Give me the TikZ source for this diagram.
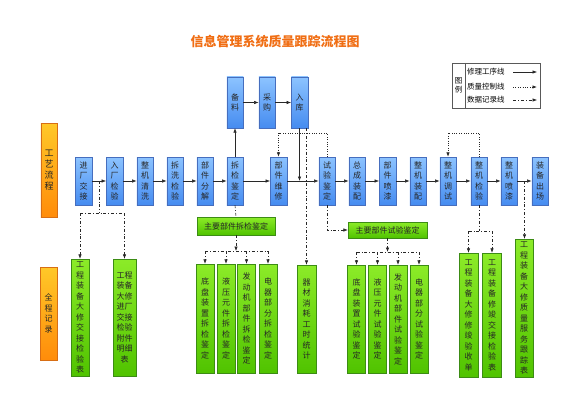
\documentclass[tikz,border=0pt]{standalone}
\usepackage{fontspec}
\setmainfont{Noto Sans CJK SC}
\usepackage{tikz}
\usetikzlibrary{calc}
\usetikzlibrary{arrows.meta}

\definecolor{procA}{RGB}{140,195,255}
\definecolor{procB}{RGB}{70,140,240}
\definecolor{procL}{RGB}{70,110,190}
\definecolor{recA}{RGB}{140,235,40}
\definecolor{recB}{RGB}{80,195,0}
\definecolor{recL}{RGB}{60,140,20}
\definecolor{sideA}{RGB}{255,200,40}
\definecolor{sideB}{RGB}{255,140,10}
\definecolor{sideL}{RGB}{215,110,20}
\definecolor{titleC}{RGB}{240,110,20}
\definecolor{lineC}{RGB}{40,40,40}

\tikzset{
  proc/.style={draw=procL, top color=procA, bottom color=procB, minimum width=16.5pt,
    minimum height=48pt, inner sep=0pt, align=center, text=black!85,
    font=\fontsize{8}{10.5}\selectfont},
  rec/.style={draw=recL, top color=recA, bottom color=recB, minimum width=18pt,
    inner sep=0pt, align=center, text=black!85, font=\fontsize{8}{10.5}\selectfont},
  side/.style={draw=sideL, top color=sideA, bottom color=sideB, minimum width=16.5pt,
    inner sep=0pt, align=center, text=black!85},
  flow/.style={-{Latex[length=4.5pt,width=3.5pt]}, lineC, line width=0.6pt},
  qual/.style={lineC, line width=0.7pt, dash pattern=on 0.8pt off 1.6pt},
  data/.style={lineC, line width=0.6pt, dash pattern=on 3pt off 2pt on 0.8pt off 2pt},
  tip/.style={-{Latex[length=4.5pt,width=3.5pt]}}
}

\begin{document}
\begin{tikzpicture}[x=1pt,y=-1pt]
\useasboundingbox (0,0) rectangle (580,409);

% title
\node[text=titleC, font=\bfseries\fontsize{13}{13}\selectfont] (title) at (275,42)
{信息管理系统质量跟踪流程图};

% legend
{
\draw[gray!70!black, line width=0.6pt] (452,63) rectangle (540,108);
\draw[gray!70!black, line width=0.6pt] (465,63) -- (465,108);
\node[align=center, font=\fontsize{7.5}{9.5}\selectfont] (lgd) at (458.5,85.5) {图\\例};
\node[right, inner sep=0pt, font=\fontsize{7.5}{7.5}\selectfont] (lg1) at (467,72) {修理工序线};
\node[right, inner sep=0pt, font=\fontsize{7.5}{7.5}\selectfont] (lg2) at (467,87) {质量控制线};
\node[right, inner sep=0pt, font=\fontsize{7.5}{7.5}\selectfont] (lg3) at (467,100) {数据记录线};
\coordinate (lga) at (513,72);
\coordinate (lgb) at (513,87);
\coordinate (lgc) at (513,100);
\draw[flow] (lga) --++(24,0);
\draw[qual, tip] (lgb) --++(24,0);
\draw[data, tip] (lgc) --++(24,0);
}

% side boxes
\node[side, minimum height=94pt, font=\fontsize{9}{11}\selectfont] (o1) at (49,170) {工\\艺\\流\\程};
\node[side, minimum height=93pt, font=\fontsize{8}{10.5}\selectfont] (o2) at (48.5,313.5) {全\\程\\记\\录};

% main row
{
\node[proc] (jc) at (83.5,181) {进\\厂\\交\\接};
\node[proc] (rc) at (114.5,181) {入\\厂\\检\\验};
\node[proc] (qx) at (145,181) {整\\机\\清\\洗};
\node[proc] (cx) at (175,181) {拆\\洗\\检\\验};
\node[proc] (fj) at (205,181) {部\\件\\分\\解};
\node[proc] (cj) at (235,181) {拆\\检\\鉴\\定};
\node[proc] (wx) at (278.5,181) {部\\件\\维\\修};
\node[proc] (sy) at (327,181) {试\\验\\鉴\\定};
\node[proc] (zc) at (357,181) {总\\成\\装\\配};
\node[proc] (pq) at (387.5,181) {部\\件\\喷\\漆};
\node[proc] (zp) at (418,181) {整\\机\\装\\配};
\node[proc] (ts) at (448,181) {整\\机\\调\\试};
\node[proc] (jy) at (479,181) {整\\机\\检\\验};
\node[proc] (jp) at (509,181) {整\\机\\喷\\漆};
\node[proc] (cc) at (540,181) {装\\备\\出\\场};
}

% top row
\node[proc, minimum height=51pt] (bl) at (235,102.5) {备\\料};
\node[proc, minimum height=51pt] (cg) at (267,102.5) {采\\购};
\node[proc, minimum height=51pt] (rk) at (299.5,102.5) {入\\库};

% records
{
\node[rec, minimum height=117pt] (r1) at (80,317.5) {工\\程\\装\\备\\大\\修\\交\\接\\检\\验\\表};
\node[rec, minimum width=23pt, minimum height=117pt] (r2) at (124.5,317.5)
{工程\\装备\\大修\\进厂\\交接\\检验\\附件\\明细\\表};

\node[rec, minimum width=78pt, minimum height=18pt] (zb1) at (236,226) {主要部件拆检鉴定};
\node[rec, minimum height=109pt] (a1) at (205,318.5) {底\\盘\\装\\置\\拆\\检\\鉴\\定};
\node[rec, minimum height=109pt] (a2) at (226,318.5) {液\\压\\元\\件\\拆\\检\\鉴\\定};
\node[rec, minimum height=109pt] (a3) at (246.5,318.5) {发\\动\\机\\部\\件\\拆\\检\\鉴\\定};
\node[rec, minimum height=109pt] (a4) at (268,318.5) {电\\器\\部\\分\\拆\\检\\鉴\\定};

\node[rec, minimum width=19pt, minimum height=108pt] (qc) at (306.5,319) {器\\材\\消\\耗\\工\\时\\统\\计};

\node[rec, minimum width=79pt, minimum height=16pt] (zb2) at (387.5,230) {主要部件试验鉴定};
\node[rec, minimum height=108pt] (b1) at (356.5,319) {底\\盘\\装\\置\\试\\验\\鉴\\定};
\node[rec, minimum height=108pt] (b2) at (377.5,319) {液\\压\\元\\件\\试\\验\\鉴\\定};
\node[rec, minimum height=108pt] (b3) at (398,319) {发\\动\\机\\部\\件\\试\\验\\鉴\\定};
\node[rec, minimum height=108pt] (b4) at (419,319) {电\\器\\部\\分\\试\\验\\鉴\\定};

\node[rec, minimum width=19pt, minimum height=124pt] (c1) at (468.5,315) {工\\程\\装\\备\\大\\修\\修\\竣\\验\\收\\单};
\node[rec, minimum width=19pt, minimum height=124pt] (c2) at (492,315) {工\\程\\装\\备\\修\\竣\\交\\接\\检\\验\\表};

\node[rec, minimum height=138pt] (d1) at (524,308) {工\\程\\装\\备\\大\\修\\质\\量\\服\\务\\跟\\踪\\表};
}

% repair flow
{
\draw[flow] (jc) -- (rc);
\draw[flow] (rc) -- (qx);
\draw[flow] (qx) -- (cx);
\draw[flow] (cx) -- (fj);
\draw[flow] (fj) -- (cj);
\draw[flow] (cj) -- (wx);
\draw[flow] (wx) -- (sy);
\draw[flow] (sy) -- (zc);
\draw[flow] (zc) -- (pq);
\draw[flow] (pq) -- (zp);
\draw[flow] (zp) -- (ts);
\draw[flow] (ts) -- (jy);
\draw[flow] (jy) -- (jp);
\draw[flow] (jp) -- (cc);

\draw[flow] (cj.north) -- (bl.south);
\draw[flow] (bl) -- (cg);
\draw[flow] (cg) -- (rk);
\draw[flow] (rk.south) -- (rk.south |- wx.east);
}

% quality loops
\coordinate (q1) at (278.5,133);
\coordinate (q2) at (448,133);
\draw[qual, tip] (sy.north) |- (q1) -- (wx.north);
\draw[qual, tip] (jy.north) |- (q2) -- (ts.north);

% data lines
{
\coordinate (m1) at ($(jc.east)!0.5!(rc.west)$);
\coordinate (h1) at (99,213);
\draw[data] (m1) -- (m1 |- h1);
\draw[data] (r1.north |- h1) -- (r2.north |- h1);
\draw[data, tip] (r1.north |- h1) -- (r1.north);
\draw[data, tip] (r2.north |- h1) -- (r2.north);

\draw[data] (cj.south) -- (zb1.north);
\coordinate (h2) at (236,251);
\draw[data, tip] (zb1.south) -- (zb1.south |- h2);
\draw[data] (a1.north |- h2) -- (a4.north |- h2);
\draw[data, tip] (a1.north |- h2) -- (a1.north);
\draw[data, tip] (a2.north |- h2) -- (a2.north);
\draw[data, tip] (a3.north |- h2) -- (a3.north);
\draw[data, tip] (a4.north |- h2) -- (a4.north);

\draw[data, tip] (qc.north |- rk.south) -- (qc.north);

\draw[data, tip] (sy.south) |- (zb2.west);
\coordinate (h3) at (388,252);
\draw[data, tip] (zb2.south) -- (zb2.south |- h3);
\draw[data] (b1.north |- h3) -- (b4.north |- h3);
\draw[data, tip] (b1.north |- h3) -- (b1.north);
\draw[data, tip] (b2.north |- h3) -- (b2.north);
\draw[data, tip] (b3.north |- h3) -- (b3.north);
\draw[data, tip] (b4.north |- h3) -- (b4.north);

\coordinate (h4) at (479,231);
\draw[data] (jy.south) -- (jy.south |- h4);
\draw[data] (c1.north |- h4) -- (c2.north |- h4);
\draw[data, tip] (c1.north |- h4) -- (c1.north);
\draw[data, tip] (c2.north |- h4) -- (c2.north);

\coordinate (m2) at ($(jp.east)!0.5!(cc.west)$);
\draw[data, tip] (m2) -- (m2 |- d1.north);
}

\end{tikzpicture}
\end{document}
